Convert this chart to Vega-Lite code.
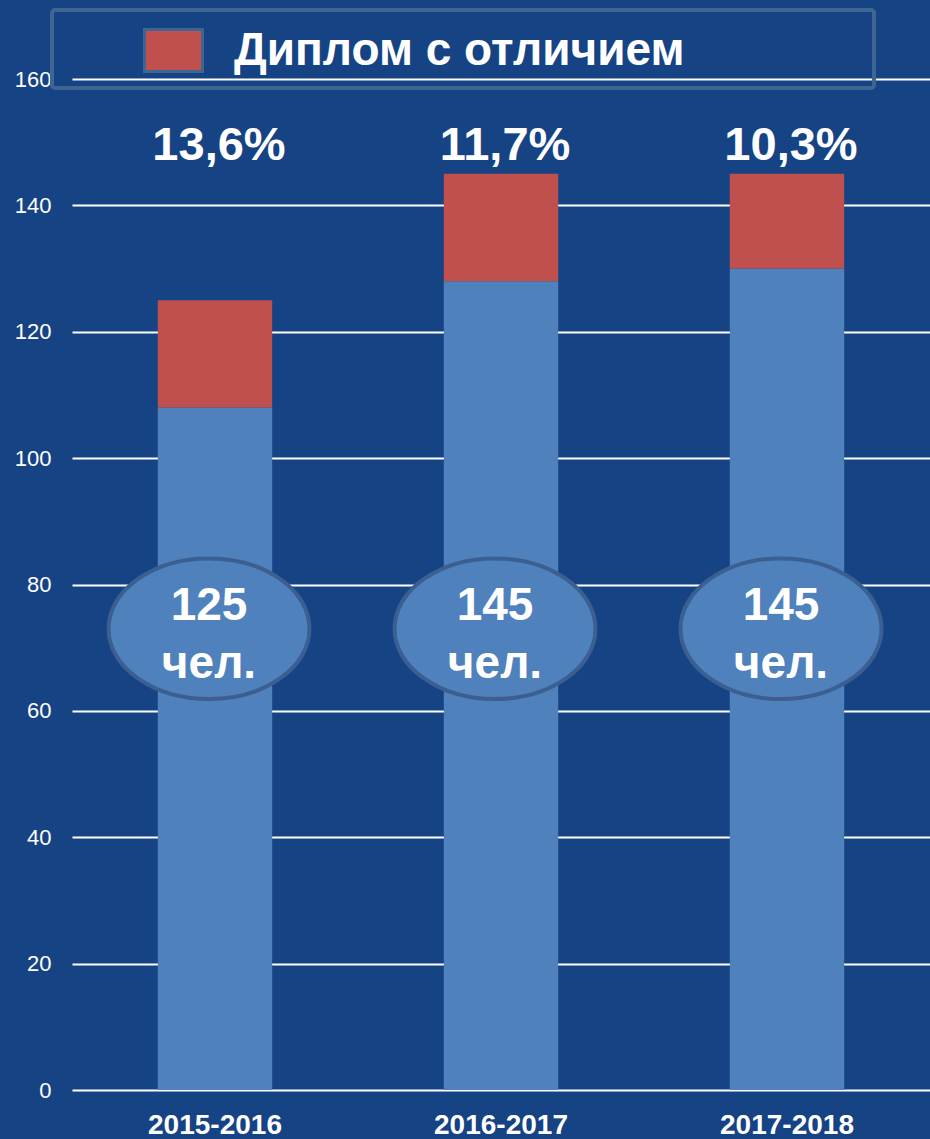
{
  "$schema": "https://vega.github.io/schema/vega-lite/v6.json",
  "width": 858,
  "height": 1011,
  "autosize": {"type": "none"},
  "padding": {"left": 72, "top": 79, "right": 0, "bottom": 49},
  "background": "#164384",
  "config": {"view": {"stroke": null}, "font": "Liberation Sans"},
  "data": {
    "values": [
      {"year": "2015-2016", "other": 108, "total": 125, "pct": "13,6%"},
      {"year": "2016-2017", "other": 128, "total": 145, "pct": "11,7%"},
      {"year": "2017-2018", "other": 130, "total": 145, "pct": "10,3%"}
    ]
  },
  "encoding": {
    "x": {
      "field": "year",
      "type": "nominal",
      "scale": {"paddingInner": 0.6, "paddingOuter": 0.3},
      "axis": {
        "title": null,
        "grid": false,
        "domain": false,
        "ticks": false,
        "labelAngle": 0,
        "labelColor": "white",
        "labelFontWeight": "bold",
        "labelFontSize": 28,
        "labelPadding": 21
      }
    }
  },
  "layer": [
    {
      "mark": {"type": "bar", "color": "#4F81BD"},
      "encoding": {
        "y": {
          "field": "other",
          "type": "quantitative",
          "scale": {"domain": [0, 160], "nice": false},
          "axis": {
            "title": null,
            "values": [0, 20, 40, 60, 80, 100, 120, 140, 160],
            "grid": true,
            "gridColor": "white",
            "gridWidth": 2,
            "domain": false,
            "ticks": false,
            "labelColor": "white",
            "labelFontSize": 22,
            "labelPadding": 21
          }
        }
      }
    },
    {
      "mark": {"type": "bar"},
      "encoding": {
        "y": {"field": "other", "type": "quantitative"},
        "y2": {"field": "total"},
        "color": {
          "datum": "Диплом с отличием",
          "type": "nominal",
          "scale": {"range": ["#C0504D"]},
          "legend": {
            "orient": "none",
            "legendX": -20,
            "legendY": -69,
            "title": null,
            "padding": 10,
            "strokeColor": "#3F6592",
            "cornerRadius": 3,
            "symbolType": "M-1,-0.72L1,-0.72L1,0.72L-1,0.72Z",
            "symbolSize": 3364,
            "symbolStrokeColor": "#3F6592",
            "symbolStrokeWidth": 3,
            "symbolOpacity": 1,
            "symbolOffset": 81,
            "labelFontWeight": "bold",
            "labelFontSize": 46,
            "labelColor": "white",
            "labelOffset": 30,
            "labelLimit": 0,
            "labelExpr": "datum.label + '\u00a0\u00a0\u00a0\u00a0\u00a0\u00a0\u00a0\u00a0\u00a0\u00a0\u00a0\u00a0\u00a0\u00a0\u200b'",
            "encode": {"legend": {"update": {"strokeWidth": {"value": 4}}}}
          }
        }
      }
    },
    {
      "mark": {
        "type": "point",
        "shape": "M-1,0A1,0.7,0,1,1,1,0A1,0.7,0,1,1,-1,0Z",
        "size": 40401,
        "filled": true,
        "fill": "#4F81BD",
        "stroke": "#3B5F91",
        "strokeWidth": 4,
        "opacity": 1,
        "xOffset": -6
      },
      "encoding": {"y": {"datum": 73, "type": "quantitative"}}
    },
    {
      "mark": {
        "type": "text",
        "color": "white",
        "fontWeight": "bold",
        "fontSize": 46,
        "baseline": "alphabetic",
        "dy": -9,
        "xOffset": -6
      },
      "encoding": {
        "y": {"datum": 73, "type": "quantitative"},
        "text": {"field": "total", "type": "nominal"}
      }
    },
    {
      "mark": {
        "type": "text",
        "color": "white",
        "fontWeight": "bold",
        "fontSize": 46,
        "baseline": "alphabetic",
        "dy": 49,
        "xOffset": -6,
        "text": "чел."
      },
      "encoding": {
        "y": {"datum": 73, "type": "quantitative"}
      }
    },
    {
      "mark": {
        "type": "text",
        "color": "white",
        "fontWeight": "bold",
        "fontSize": 47,
        "baseline": "alphabetic",
        "xOffset": 4
      },
      "encoding": {
        "y": {"datum": 147.2, "type": "quantitative"},
        "text": {"field": "pct", "type": "nominal"}
      }
    }
  ]
}
